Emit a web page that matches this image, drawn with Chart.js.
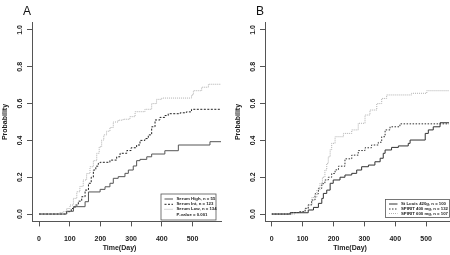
<!DOCTYPE html>
<html>
<head>
<meta charset="utf-8">
<script src="https://cdn.jsdelivr.net/npm/chart.js@4/dist/chart.umd.min.js"></script>
<style>
  html, body { margin: 0; padding: 0; background: #fff; }
  #wrap { display: flex; width: 450px; height: 255px; }
  .panel { width: 225px; height: 255px; }
</style>
</head>
<body>
<div id="wrap">
  <div class="panel"><canvas id="panelA" width="225" height="255"></canvas></div>
  <div class="panel"><canvas id="panelB" width="225" height="255"></canvas></div>
</div>
<script>
// tick labels
const xTicks = [0, 100, 200, 300, 400, 500];
const yTicks = [0, 0.2, 0.4, 0.6, 0.8, 1.0];

// panel A series
const aLabels = ["Serum High, n = 55", "Serum Int, n = 123", "Serum Low, n = 134"];
const aPvalue = "P-value = 0.001";
const aHighDays = [0, 90, 112, 150, 161, 199, 215, 231, 242, 258, 280, 291, 307, 318, 329, 351, 367, 410, 454, 557, 593];
const aHighProb = [0, 0.015, 0.04, 0.067, 0.12, 0.134, 0.148, 0.167, 0.194, 0.203, 0.221, 0.239, 0.261, 0.29, 0.297, 0.311, 0.326, 0.344, 0.375, 0.393, 0.393];
const aIntDays = [0, 90, 105, 117, 128, 139, 150, 161, 170, 177, 185, 193, 199, 231, 253, 264, 286, 300, 318, 329, 345, 356, 367, 378, 394, 410, 421, 460, 480, 497, 593];
const aIntProb = [0, 0.013, 0.03, 0.049, 0.07, 0.094, 0.13, 0.167, 0.2, 0.239, 0.26, 0.275, 0.281, 0.293, 0.311, 0.33, 0.345, 0.36, 0.375, 0.4, 0.41, 0.43, 0.474, 0.511, 0.525, 0.535, 0.545, 0.55, 0.555, 0.569, 0.569];
const aLowDays = [0, 68, 79, 90, 101, 112, 123, 133, 144, 155, 166, 177, 188, 196, 204, 211, 220, 231, 242, 258, 274, 296, 313, 345, 367, 383, 400, 497, 503, 530, 552, 593];
const aLowProb = [0, 0.008, 0.013, 0.03, 0.049, 0.085, 0.121, 0.15, 0.185, 0.22, 0.257, 0.29, 0.33, 0.365, 0.402, 0.43, 0.45, 0.47, 0.5, 0.51, 0.515, 0.529, 0.556, 0.569, 0.6, 0.623, 0.63, 0.647, 0.67, 0.689, 0.705, 0.705];

// panel B series
const bLabels = ["St Louis 420g, n = 100", "SPIRIT 400 mg, n = 132", "SPIRIT 600 mg, n = 107"];
const bLouisDays = [0, 59, 118, 135, 151, 162, 167, 178, 189, 199, 221, 237, 259, 275, 291, 313, 334, 351, 361, 367, 388, 410, 442, 448, 497, 507, 523, 545, 574];
const bLouisProb = [0, 0.007, 0.022, 0.036, 0.058, 0.085, 0.112, 0.13, 0.167, 0.185, 0.2, 0.212, 0.221, 0.239, 0.257, 0.266, 0.284, 0.303, 0.33, 0.348, 0.362, 0.37, 0.384, 0.402, 0.438, 0.457, 0.474, 0.496, 0.496];
const b400Days = [0, 65, 86, 108, 118, 129, 140, 151, 162, 172, 183, 194, 205, 216, 237, 259, 280, 302, 323, 345, 356, 367, 383, 415, 574];
const b400Prob = [0, 0.008, 0.013, 0.031, 0.05, 0.076, 0.11, 0.14, 0.165, 0.185, 0.2, 0.22, 0.24, 0.26, 0.3, 0.32, 0.345, 0.36, 0.375, 0.39, 0.42, 0.457, 0.474, 0.49, 0.49];
const b600Days = [0, 75, 97, 108, 118, 130, 146, 156, 164, 172, 178, 183, 189, 194, 205, 232, 259, 280, 302, 318, 340, 356, 372, 453, 502, 574];
const b600Prob = [0, 0.008, 0.013, 0.03, 0.049, 0.09, 0.13, 0.167, 0.2, 0.239, 0.275, 0.311, 0.35, 0.384, 0.42, 0.438, 0.457, 0.493, 0.538, 0.565, 0.6, 0.628, 0.647, 0.656, 0.67, 0.67];

const FONT = "'Liberation Sans', Arial, sans-serif";

function pts(days, prob) {
  return days.map((d, i) => ({ x: d, y: prob[i] }));
}

function line(label, days, prob, color, dash) {
  return {
    label, data: pts(days, prob), borderColor: color, borderWidth: 1,
    borderDash: dash, pointRadius: 0, stepped: true, fill: false
  };
}

// draws R-style axis text, panel letter and the boxed legend
const rStyle = {
  id: "rStyle",
  afterDraw(chart, args, o) {
    const ctx = chart.ctx, xs = chart.scales.x, ys = chart.scales.y, ca = chart.chartArea;
    ctx.save();
    ctx.fillStyle = "#222";
    ctx.font = "bold 7px " + FONT;
    ctx.textAlign = "center";
    ctx.textBaseline = "middle";
    xTicks.forEach(v => ctx.fillText(String(v), xs.getPixelForValue(v), 239));
    yTicks.forEach(v => {
      ctx.save();
      ctx.translate(o.yLabelX, ys.getPixelForValue(v));
      ctx.rotate(-Math.PI / 2);
      ctx.fillText(v.toFixed(1), 0, 0);
      ctx.restore();
    });
    ctx.font = "bold 7px " + FONT;
    ctx.fillText("Time(Day)", (ca.left + ca.right) / 2 - 7, 248.5);
    ctx.save();
    ctx.translate(o.yTitleX, ys.getPixelForValue(0.5));
    ctx.rotate(-Math.PI / 2);
    ctx.fillText("Probability", 0, 0);
    ctx.restore();
    ctx.font = "12px " + FONT;
    ctx.fillStyle = "#111";
    ctx.fillText(o.letter, o.letterX, 12);

    // legend
    const b = o.box;
    ctx.fillStyle = "#fff";
    ctx.fillRect(b.x, b.y, b.w, b.h);
    ctx.strokeStyle = "#555";
    ctx.lineWidth = 0.8;
    ctx.strokeRect(b.x + 0.5, b.y + 0.5, b.w, b.h);
    ctx.font = "bold 4.3px " + FONT;
    ctx.textAlign = "left";
    chart.data.datasets.forEach((ds, i) => {
      const y = b.rows[i];
      ctx.beginPath();
      ctx.setLineDash(ds.borderDash || []);
      ctx.strokeStyle = ds.borderColor;
      ctx.lineWidth = 1;
      ctx.moveTo(b.x + 4, y);
      ctx.lineTo(b.x + 12.5, y);
      ctx.stroke();
      ctx.setLineDash([]);
      ctx.fillStyle = "#222";
      ctx.fillText(ds.label, b.x + 16, y);
    });
    if (o.extra) {
      ctx.fillStyle = "#222";
      ctx.fillText(o.extra, b.x + 16, b.rows[3]);
    }
    ctx.restore();
  }
};

function makePanel(id, datasets, p) {
  const axisGrid = { drawOnChartArea: false, drawTicks: true, tickLength: 5, color: "#555", lineWidth: 1 };
  return new Chart(document.getElementById(id), {
    type: "line",
    data: { datasets },
    options: {
      responsive: false,
      animation: false,
      layout: { padding: { top: 22.6, right: p.padRight, left: 0, bottom: 0 } },
      plugins: { legend: { display: false }, tooltip: { enabled: false }, rStyle: p },
      scales: {
        x: {
          type: "linear", min: p.xMin, max: p.xMax,
          afterBuildTicks: s => { s.ticks = xTicks.map(v => ({ value: v })); },
          afterFit: s => { s.height = 33.6; },
          ticks: { display: false },
          grid: axisGrid,
          border: { color: "#555", width: 1 }
        },
        y: {
          min: -0.04, max: 1.04,
          afterBuildTicks: s => { s.ticks = yTicks.map(v => ({ value: v })); },
          afterFit: s => { s.width = p.left; },
          ticks: { display: false },
          grid: axisGrid,
          border: { color: "#555", width: 1 }
        }
      }
    },
    plugins: [rStyle]
  });
}

makePanel("panelA", [
  line(aLabels[0], aHighDays, aHighProb, "#555", []),
  line(aLabels[1], aIntDays, aIntProb, "#222", [2, 1.5]),
  line(aLabels[2], aLowDays, aLowProb, "#b0b0b0", [1, 1])
], {
  letter: "A", letterX: 27, yLabelX: 20, yTitleX: 5, left: 32, padRight: 4,
  xMin: -23, xMax: 593, extra: aPvalue,
  box: { x: 160.5, y: 193.5, w: 55, h: 26, rows: [199, 204.3, 209.3, 214.5] }
});

makePanel("panelB", [
  line(bLabels[0], bLouisDays, bLouisProb, "#333", []),
  line(bLabels[1], b400Days, b400Prob, "#333", [1.5, 1.5]),
  line(bLabels[2], b600Days, b600Prob, "#b0b0b0", [1, 1])
], {
  letter: "B", letterX: 35, yLabelX: 28, yTitleX: 13, left: 40, padRight: 1,
  xMin: -22, xMax: 574,
  box: { x: 160, y: 199, w: 64, h: 18, rows: [204, 209, 213.5] }
});
</script>
</body>
</html>
